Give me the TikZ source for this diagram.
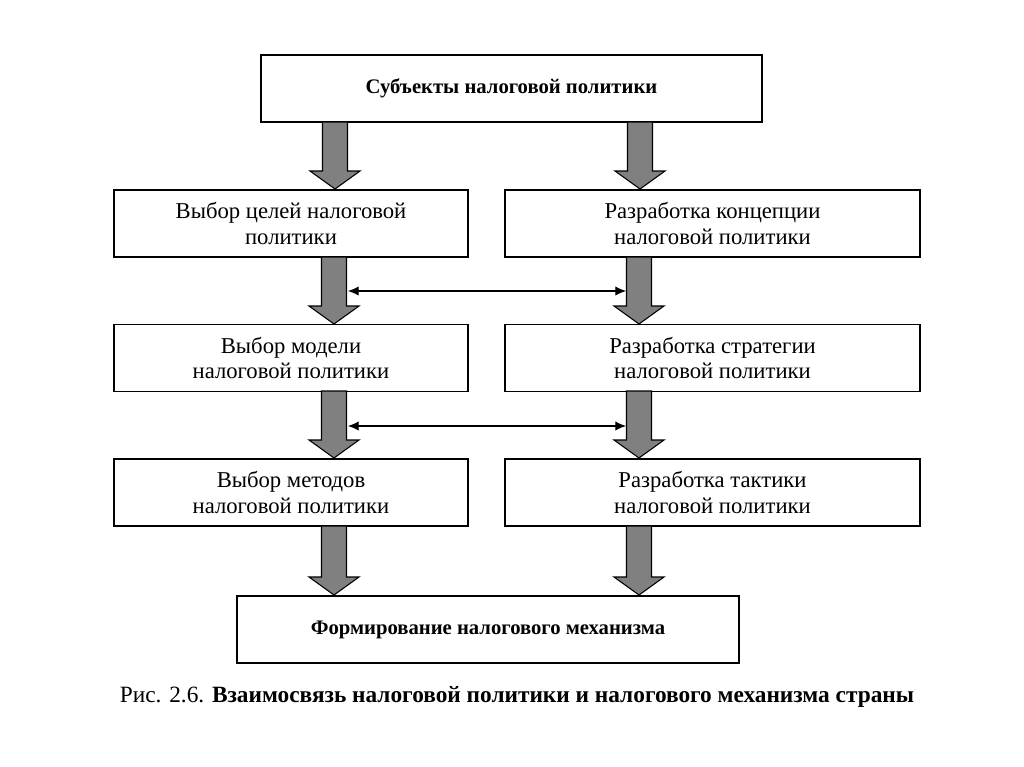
\documentclass[tikz,border=0pt]{standalone}
\usepackage{fontspec}
\setmainfont{Liberation Serif}
\usetikzlibrary{arrows.meta}
\definecolor{arrowgray}{RGB}{128,128,128}
\begin{document}
\begin{tikzpicture}[x=0.75pt,y=-0.75pt,
  box/.style={draw,line width=1.2pt,minimum height=67*0.75pt,inner sep=0pt,align=center,font=\fontsize{17}{19}\selectfont},
  boldbox/.style={box,font=\fontsize{15.5}{19}\selectfont\bfseries},
  bigarrow/.style={draw,line width=0.8pt,fill=arrowgray},
  dbl/.style={line width=0.8pt,{Latex[length=8pt,width=7pt]}-{Latex[length=8pt,width=7pt]}}]
\useasboundingbox (0,0) rectangle (1024,767);
\node[boldbox,minimum width=501*0.75pt] (top) at (511.5,88.5) {Субъекты налоговой политики};
\node[box,minimum width=354*0.75pt] (l1) at (291,223.5) {Выбор целей налоговой\\политики};
\node[box,minimum width=415*0.75pt] (r1) at (712.5,223.5) {Разработка концепции\\налоговой политики};
\node[box,minimum width=354*0.75pt] (l2) at (291,358) {Выбор модели\\налоговой политики};
\node[box,minimum width=415*0.75pt] (r2) at (712.5,358) {Разработка стратегии\\налоговой политики};
\node[box,minimum width=354*0.75pt] (l3) at (291,492.5) {Выбор методов\\налоговой политики};
\node[box,minimum width=415*0.75pt] (r3) at (712.5,492.5) {Разработка тактики\\налоговой политики};
\node[boldbox,minimum width=502*0.75pt] (bot) at (488,629.5) {Формирование налогового механизма};
\node (cap) at (517,697) {\fontsize{17.5}{20}\selectfont Рис. 2.6. \textbf{Взаимосвязь налоговой политики и налогового механизма страны}};
\foreach \cx/\ya/\yb in {335/122/190, 640/122/190, 334/257/325, 639/257/325, 334/391/459, 639/391/459, 334/526/596, 639/526/596}{
  \draw[bigarrow] (\cx-12.5,\ya) -- (\cx+12.5,\ya) -- (\cx+12.5,\yb-19) -- (\cx+25,\yb-19) -- (\cx,\yb-1) -- (\cx-25,\yb-19) -- (\cx-12.5,\yb-19) -- cycle;
}
\coordinate (a1) at (348,291);
\coordinate (b1) at (626,291);
\coordinate (a2) at (348,426);
\coordinate (b2) at (626,426);
\draw[dbl] (a1) -- (b1);
\draw[dbl] (a2) -- (b2);
\end{tikzpicture}
\end{document}
